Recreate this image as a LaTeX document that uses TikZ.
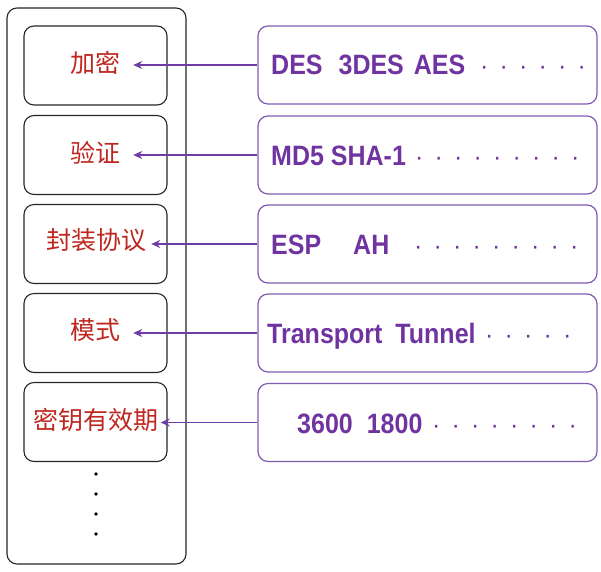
\documentclass[tikz,border=0pt]{standalone}
\usepackage{fontspec}
\setmainfont{Liberation Sans}
\newfontfamily\cjk{Noto Sans CJK SC}
\usetikzlibrary{arrows.meta}
\definecolor{txtred}{RGB}{190,38,30}
\definecolor{txtpur}{RGB}{112,52,160}
\definecolor{boxpur}{RGB}{128,90,176}
\definecolor{arrpur}{RGB}{112,60,165}
\newcommand\pd{\makebox[19.5pt]{·}}
\newcommand\vs[1]{\scalebox{1}[1.12]{#1}}
\tikzset{
  outerbox/.style={draw=black!85,line width=1.1pt,rounded corners=10pt,minimum width=179pt,minimum height=556pt,inner sep=0pt},
  lbox/.style={draw=black!85,line width=1.1pt,rounded corners=10pt,minimum width=143pt,minimum height=79pt,inner sep=0pt},
  rbox/.style={draw=boxpur,line width=1.2pt,rounded corners=10pt,minimum width=339pt,minimum height=78pt,inner sep=0pt},
  ltext/.style={text=txtred,font=\cjk\fontsize{25pt}{25pt}\selectfont,inner sep=0pt},
  rtext/.style={text=txtpur,font=\bfseries\fontsize{25pt}{25pt}\selectfont,inner sep=0pt,anchor=base west},
  dtext/.style={text=txtpur,font=\fontsize{25pt}{25pt}\selectfont,inner sep=0pt,anchor=base west},
  arr/.style={draw=arrpur,line width=1.3pt,-{Stealth[length=9pt,width=8pt]}},
  vdot/.style={circle,fill=black,inner sep=0pt,minimum size=3.6pt}
}
\begin{document}
\begin{tikzpicture}[x=1pt,y=-1pt]
\useasboundingbox (0,0) rectangle (601,571);
\node[outerbox] (outer) at (96.5,286) {};
% left boxes
\node[lbox] (l1) at (95.5,65.5) {};
\node[lbox] (l2) at (95.5,155) {};
\node[lbox] (l3) at (95.5,244) {};
\node[lbox] (l4) at (95.5,333) {};
\node[lbox] (l5) at (95.5,422) {};
% right boxes
\node[rbox] (r1) at (427.5,65) {};
\node[rbox] (r2) at (427.5,155) {};
\node[rbox] (r3) at (427.5,244) {};
\node[rbox] (r4) at (427.5,333) {};
\node[rbox] (r5) at (427.5,422.5) {};
% left texts
\node[ltext] (t1) at (95,63) {加密};
\node[ltext] (t2) at (95,153) {验证};
\node[ltext] (t3) at (96,240) {封装协议};
\node[ltext] (t4) at (95,330) {模式};
\node[ltext] (t5) at (96,420) {密钥有效期};
% right texts
\node[rtext] (s1) at (271,74) {\vs{DES\hspace{16pt}3DES\hspace{10pt}AES}};
\node[rtext] (s2) at (271,165) {\vs{MD5 SHA-1}};
\node[rtext] (s3) at (271,254) {\vs{ESP\hspace{32pt}AH}};
\node[rtext] (s4) at (267,343) {\vs{Transport\hspace{13pt}Tunnel}};
\node[rtext] (s5) at (297,433) {\vs{3600\hspace{14pt}1800}};
% dots
\node[dtext] (d1) at (474.25,74) {\pd\pd\pd\pd\pd\pd};
\node[dtext] (d2) at (409.25,165) {\pd\pd\pd\pd\pd\pd\pd\pd\pd};
\node[dtext] (d3) at (408.25,254) {\pd\pd\pd\pd\pd\pd\pd\pd\pd};
\node[dtext] (d4) at (479.25,343) {\pd\pd\pd\pd\pd};
\node[dtext] (d5) at (426.25,433) {\pd\pd\pd\pd\pd\pd\pd\pd};
% arrows
\draw[arr] (r1.west) -- ([xshift=13pt]t1.east |- r1.west);
\draw[arr] (r2.west) -- ([xshift=13pt]t2.east |- r2.west);
\draw[arr] (r3.west) -- ([xshift=5pt]t3.east |- r3.west);
\draw[arr] (r4.west) -- ([xshift=13pt]t4.east |- r4.west);
\draw[arr] (r5.west) -- ([xshift=2pt]t5.east |- r5.west);
% vertical dots
\node[vdot] (v1) at (96,474) {};
\node[vdot] (v2) at (96,494) {};
\node[vdot] (v3) at (96,514) {};
\node[vdot] (v4) at (96,534) {};
\end{tikzpicture}
\end{document}
